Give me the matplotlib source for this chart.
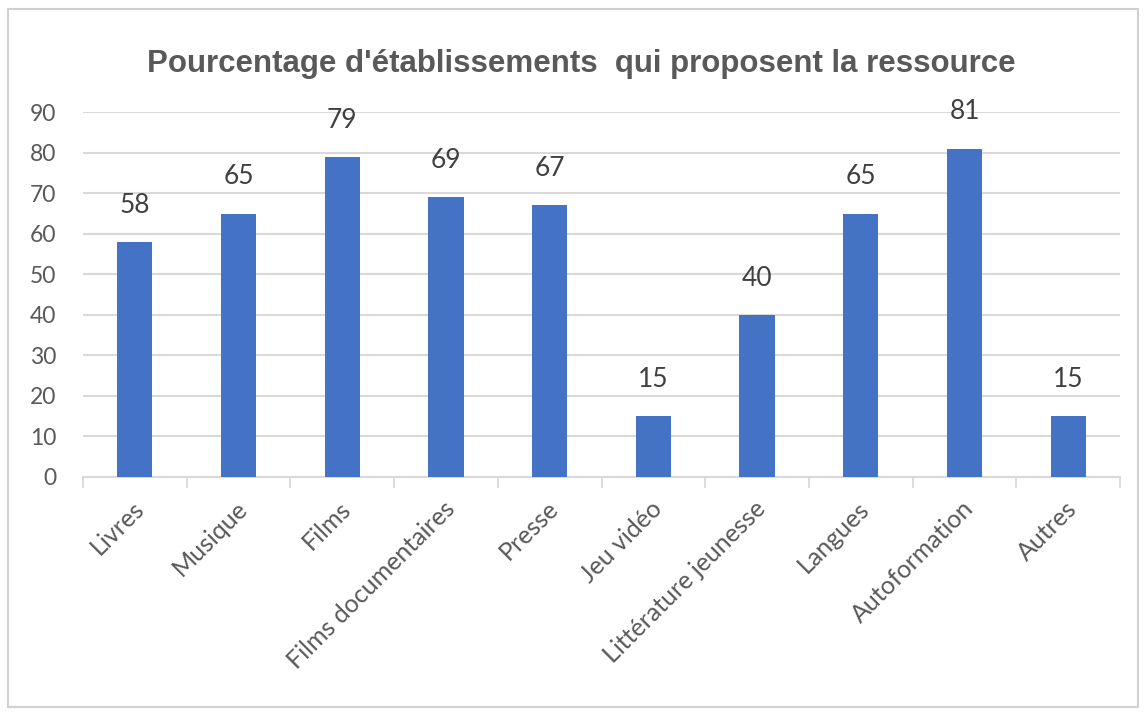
import matplotlib.pyplot as plt
from matplotlib.patches import Rectangle
from matplotlib.transforms import ScaledTranslation
import numpy as np

categories = ["Livres", "Musique", "Films", "Films documentaires", "Presse",
              "Jeu vidéo", "Littérature jeunesse", "Langues", "Autoformation", "Autres"]
values = [58, 65, 79, 69, 67, 15, 40, 65, 81, 15]
y_ticks = [0, 10, 20, 30, 40, 50, 60, 70, 80, 90]
title = "Pourcentage d'établissements  qui proposent la ressource"

bar_color = "#4472C4"
grid_color = "#D9D9D9"
text_gray = "#595959"

fig = plt.figure(figsize=(11.46, 7.15), dpi=100)
fig.patch.set_facecolor("white")

# chart frame
fig.patches.append(Rectangle((0.007, 0.011), 0.986, 0.977, transform=fig.transFigure,
                             fill=False, edgecolor="#D0D0D0", linewidth=1.5))

ax = fig.add_axes([0.0724, 0.333, 0.905, 0.510])
x = np.arange(len(categories))
bars = ax.bar(x, values, width=0.34, color=bar_color, zorder=3)

for xi, v in zip(x, values):
    ax.annotate(str(v), (xi, v), xytext=(0, 26.5), textcoords="offset points",
                ha="center", va="center", fontsize=19, color="#404040", family="Lato")

ax.set_xlim(-0.5, len(categories) - 0.5)
ax.set_ylim(0, 90)
ax.set_yticks(y_ticks)
ax.set_yticklabels([str(t) for t in y_ticks], fontsize=16.5, color=text_gray, family="Lato")
ax.yaxis.grid(True, color=grid_color, linewidth=1.5, zorder=0)
ax.tick_params(axis="y", length=0, pad=19)

# category boundary ticks on the x axis
ax.set_xticks(np.arange(len(categories) + 1) - 0.5)
ax.set_xticklabels([])
ax.tick_params(axis="x", which="major", length=8, width=1.3, color=grid_color, direction="out")
ax.set_xticks(x, minor=True)
ax.set_xticklabels(categories, minor=True, rotation=45, ha="right", va="center",
                   rotation_mode="anchor", fontsize=18, color=text_gray, family="Lato")
ax.tick_params(axis="x", which="minor", length=0, pad=20)
shift = ScaledTranslation(0.05, 0, fig.dpi_scale_trans)
for lbl in ax.get_xticklabels(minor=True):
    lbl.set_transform(lbl.get_transform() + shift)

for side in ["top", "right", "left"]:
    ax.spines[side].set_visible(False)
ax.spines["bottom"].set_color(grid_color)
ax.spines["bottom"].set_linewidth(1.5)

fig.text(0.507, 1 - 72 / 715, title, ha="center", va="baseline", fontsize=22.5,
         fontweight="bold", color=text_gray, family="Liberation Sans")

fig.savefig("out.png", dpi=100)
